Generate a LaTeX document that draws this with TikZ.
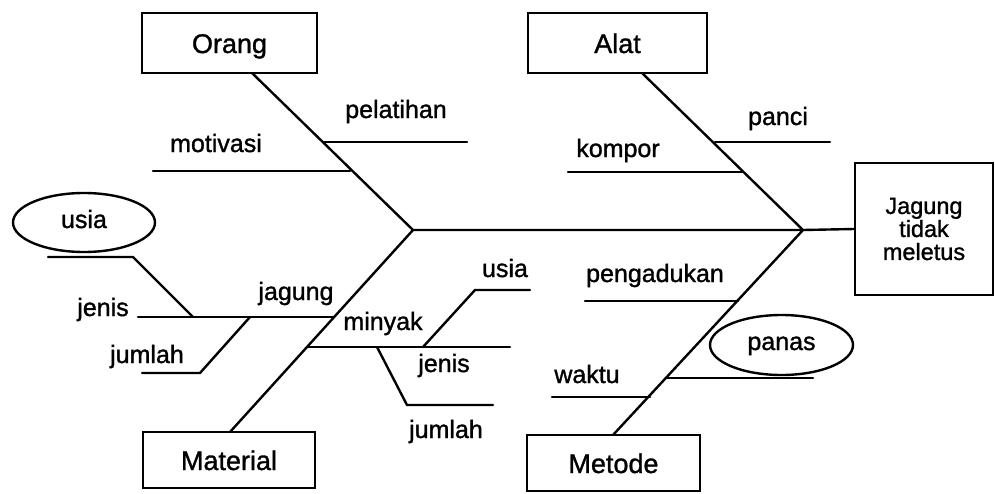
\documentclass[tikz,border=0pt]{standalone}
\usepackage{fontspec}
\setmainfont[FakeBold=1.2]{Liberation Sans}
\usetikzlibrary{shapes.geometric}
\begin{document}
\begin{tikzpicture}[x=1pt,y=-1pt,
  bone/.style={line width=2.4pt,line cap=round},
  catbox/.style={draw,line width=2.4pt,inner sep=0pt,font=\fontsize{27}{30}\selectfont,text height=20pt,text depth=0pt},
  lbl/.style={anchor=base,inner sep=0pt,font=\fontsize{25}{28}\selectfont},
  oval/.style={draw,ellipse,line width=2.4pt,inner sep=0pt,font=\fontsize{25}{28}\selectfont,text depth=0pt}]
\useasboundingbox (0,0) rectangle (995,493);
% boxes
\node[catbox,minimum width=175pt,minimum height=60pt] (orang) at (229.5,43) {Orang};
\node[catbox,minimum width=179pt,minimum height=60pt] (alat) at (617.5,43) {Alat};
\node[catbox,minimum width=172pt,minimum height=56pt] (material) at (229,460) {Material};
\node[catbox,minimum width=173pt,minimum height=56pt] (metode) at (613.5,463) {Metode};
\node[draw,line width=2.4pt,inner sep=0pt,minimum width=138pt,minimum height=132pt,align=center,
  font=\fontsize{23.5}{23}\selectfont] (effect) at (924,229) {Jagung\\tidak\\meletus};
% ellipses
\node[oval,minimum width=142pt,minimum height=59pt,text height=11pt] (usiaA) at (84,222.5) {usia};
\node[oval,minimum width=143pt,minimum height=60pt,text height=10pt] (panas) at (781.5,345) {panas};
% joints
\coordinate (tail) at (413,230);
\coordinate (head) at (803,230);
\coordinate (oTop) at (252,73);
\coordinate (aTop) at (642,73);
\coordinate (mBot) at (230,432);
\coordinate (eBot) at (613,435);
% spine
\draw[bone] (tail) -- (head) -- (effect.west);
\draw[bone] (oTop) -- (tail) -- (mBot);
\draw[bone] (aTop) -- (head) -- (eBot);
% Orang
\coordinate (pel1) at (323,142); \coordinate (pel2) at (467,142);
\coordinate (mot1) at (153,171); \coordinate (mot2) at (350,171);
\draw[bone] (pel1) -- (pel2);
\draw[bone] (mot1) -- (mot2);
\node[lbl] (pelatihan) at (396,118) {pelatihan};
\node[lbl] (motivasi) at (216,152) {motivasi};
% Alat
\coordinate (pan1) at (715,142); \coordinate (pan2) at (830,142);
\coordinate (kom1) at (568,172); \coordinate (kom2) at (743,172);
\draw[bone] (pan1) -- (pan2);
\draw[bone] (kom1) -- (kom2);
\node[lbl] (panci) at (778,125) {panci};
\node[lbl] (kompor) at (618,157) {kompor};
% Metode
\coordinate (peng1) at (585,301); \coordinate (peng2) at (738,301);
\coordinate (pns1) at (667,378); \coordinate (pns2) at (813,378);
\coordinate (wak1) at (552,397); \coordinate (wak2) at (650,397);
\draw[bone] (peng1) -- (peng2);
\draw[bone] (pns1) -- (pns2);
\draw[bone] (wak1) -- (wak2);
\node[lbl] (pengadukan) at (655,282) {pengadukan};
\node[lbl] (waktu) at (587,383) {waktu};
% Material: jagung branch
\coordinate (jg1) at (138,317); \coordinate (jg2) at (334,317);
\draw[bone] (jg1) -- (jg2);
\coordinate (ua1) at (48,257); \coordinate (ua2) at (133,257); \coordinate (ua3) at (193,317);
\draw[bone] (ua1) -- (ua2) -- (ua3);
\coordinate (ja1) at (250,317); \coordinate (ja2) at (200,373); \coordinate (ja3) at (142,373);
\draw[bone] (ja1) -- (ja2) -- (ja3);
\node[lbl] (jagung) at (296,300) {jagung};
\node[lbl] (jenisA) at (103,316) {jenis};
\node[lbl] (jumlahA) at (147,363) {jumlah};
% Material: minyak branch
\coordinate (my1) at (307,347); \coordinate (my2) at (510,347);
\draw[bone] (my1) -- (my2);
\coordinate (ub1) at (423,347); \coordinate (ub2) at (475,290); \coordinate (ub3) at (530,290);
\draw[bone] (ub1) -- (ub2) -- (ub3);
\coordinate (jb1) at (377,347); \coordinate (jb2) at (407,405); \coordinate (jb3) at (493,405);
\draw[bone] (jb1) -- (jb2) -- (jb3);
\node[lbl] (minyak) at (383,330) {minyak};
\node[lbl] (usiaB) at (505,277) {usia};
\node[lbl] (jenisB) at (444,372) {jenis};
\node[lbl] (jumlahB) at (446,438) {jumlah};
\end{tikzpicture}
\end{document}
